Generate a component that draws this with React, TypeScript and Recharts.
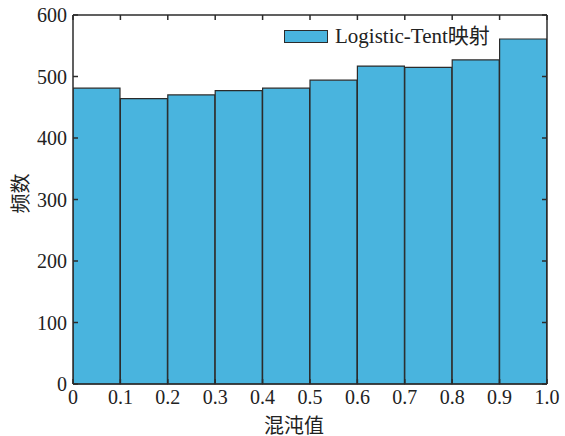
import React from "react";
import { ComposedChart, Bar, Line, XAxis, YAxis, Legend } from "recharts";

// histogram bin centres and counts
const binCenters = [0.05, 0.15, 0.25, 0.35, 0.45, 0.55, 0.65, 0.75, 0.85, 0.95];
const counts = [481, 464, 470, 477, 481, 494, 517, 515, 527, 561];
const xTicks = [0, 0.1, 0.2, 0.3, 0.4, 0.5, 0.6, 0.7, 0.8, 0.9, 1.0];
const xTickLabels = ["0", "0.1", "0.2", "0.3", "0.4", "0.5", "0.6", "0.7", "0.8", "0.9", "1.0"];
const yTicks = [0, 100, 200, 300, 400, 500, 600];
const seriesName = "Logistic-Tent映射";

const data = binCenters.map((x, i) => ({ x, count: counts[i] }));

const FONT = "'Liberation Serif', 'Times New Roman', 'Noto Sans CJK SC', serif";
const FILL = "#49b4de";
const INK = "#2b2b2b";
const tickStyle = { fontSize: 20, fill: "#222", fontFamily: FONT };

const fmtX = (v: number) => xTickLabels[xTicks.findIndex((t) => Math.abs(t - v) < 1e-6)] ?? String(v);

const LegendBox = () => (
  <div style={{ display: "flex", alignItems: "center", fontFamily: FONT, fontSize: 21, color: "#222", lineHeight: "22px" }}>
    <span style={{ display: "inline-block", width: 42, height: 11, background: FILL, border: `1.5px solid ${INK}`, marginRight: 7 }} />
    <span>{seriesName}</span>
  </div>
);

export default function App() {
  return (
    <div style={{ position: "absolute", left: 0, top: 0, background: "#fff" }}>
      <ComposedChart
        width={565}
        height={436}
        data={data}
        margin={{ top: 14, right: 17, left: 13, bottom: 22 }}
        barCategoryGap={0}
        barGap={0}
        style={{ fontFamily: FONT }}
      >
        <XAxis
          dataKey="x"
          xAxisId="bottom"
          type="number"
          domain={[0, 1]}
          allowDataOverflow
          ticks={xTicks}
          interval={0}
          tickFormatter={fmtX}
          tick={tickStyle}
          tickSize={-5}
          tickMargin={11}
          stroke={INK}
          strokeWidth={1.5}
          height={30}
          label={(p: any) => {
            const vb = p.viewBox;
            return (
              <text x={vb.x + vb.width / 2 - 16} y={433} textAnchor="middle" fontSize={20} fill="#222" fontFamily={FONT}>
                混沌值
              </text>
            );
          }}
        />
        <XAxis
          dataKey="x"
          xAxisId="top"
          orientation="top"
          type="number"
          domain={[0, 1]}
          allowDataOverflow
          ticks={xTicks}
          interval={0}
          tickFormatter={() => ""}
          tickSize={-5}
          stroke={INK}
          strokeWidth={1.5}
          height={1}
        />
        <YAxis
          yAxisId="left"
          domain={[0, 600]}
          ticks={yTicks}
          interval={0}
          tick={tickStyle}
          tickSize={-5}
          tickMargin={11}
          stroke={INK}
          strokeWidth={1.5}
          width={60}
          label={(p: any) => {
            const vb = p.viewBox;
            const cy = vb.y + vb.height / 2 - 6;
            return (
              <text x={21} y={cy} transform={`rotate(-90 21 ${cy})`} textAnchor="middle" dominantBaseline="central" fontSize={20} fill="#222" fontFamily={FONT}>
                频数
              </text>
            );
          }}
        />
        <YAxis
          yAxisId="right"
          orientation="right"
          domain={[0, 600]}
          ticks={yTicks}
          interval={0}
          tickFormatter={() => ""}
          tickSize={-5}
          stroke={INK}
          strokeWidth={1.5}
          width={1}
        />
        <Legend
          verticalAlign="middle"
          align="center"
          layout="horizontal"
          content={<LegendBox />}
          wrapperStyle={{ position: "absolute", top: 25, left: 284, width: "auto", height: "auto" }}
        />
        <Bar
          dataKey="count"
          name={seriesName}
          xAxisId="bottom"
          yAxisId="left"
          fill={FILL}
          stroke={INK}
          strokeWidth={1.2}
          isAnimationActive={false}
        />
        {/* invisible series so the frame axes (top/right) get a domain */}
        <Line
          dataKey="count"
          xAxisId="top"
          yAxisId="right"
          stroke="none"
          dot={false}
          activeDot={false}
          legendType="none"
          isAnimationActive={false}
        />
      </ComposedChart>
    </div>
  );
}
